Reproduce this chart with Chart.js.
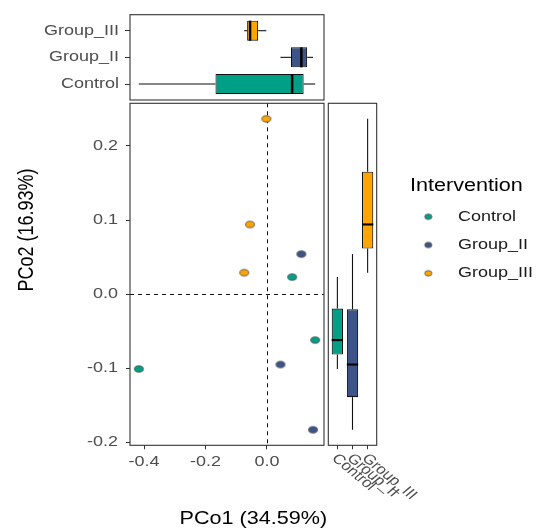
<!DOCTYPE html>
<html>
<head>
<meta charset="utf-8">
<script src="https://cdn.jsdelivr.net/npm/chart.js@4/dist/chart.umd.min.js"></script>
<style>
  html, body { margin: 0; padding: 0; background: #fff; }
  #wrap { position: relative; width: 536px; height: 530px; }
  #wrap canvas { position: absolute; left: 0; top: 0; }
</style>
</head>
<body>
<div id="wrap">
  <canvas id="mainChart" width="536" height="530"></canvas>
  <canvas id="topChart" width="536" height="530"></canvas>
  <canvas id="sideChart" width="536" height="530"></canvas>
</div>
<script>
// ---- data: PCoA coordinates per intervention group ----
const groups = ['Control', 'Group_II', 'Group_III'];
const controlPCo1 = [-0.417, 0.082, 0.157];
const controlPCo2 = [-0.101, 0.023, -0.062];
const group2PCo1 = [0.112, 0.044, 0.150];
const group2PCo2 = [0.054, -0.095, -0.183];
const group3PCo1 = [-0.002, -0.055, -0.074];
const group3PCo2 = [0.2365, 0.094, 0.029];
const xTickValues = [-0.4, -0.2, 0.0];
const yTickValues = [-0.2, -0.1, 0.0, 0.1, 0.2];
const xTitle = 'PCo1 (34.59%)';
const yTitle = 'PCo2 (16.93%)';
const legendTitle = 'Intervention';

// ---- styling ----
const groupColors = ['#00A087', '#3C5488', '#FFA500'];
const FONT = '"Liberation Sans", Arial, sans-serif';
const SX = 1.2;            // horizontal text stretch
const TICK_COLOR = '#4d4d4d';
const FRAME_COLOR = '#333333';

// panel frames (pixels)
const PANEL = {
  left: 130, right: 324,            // main + top panel horizontal extent
  mainTop: 103.3, mainBottom: 445.3,
  topTop: 14.7, topBottom: 100,
  sideLeft: 328.3, sideRight: 376.7
};

const xsByGroup = [controlPCo1, group2PCo1, group3PCo1];
const ysByGroup = [controlPCo2, group2PCo2, group3PCo2];

// ---- helpers ----
function quantile(arr, p) {
  const s = [...arr].sort((a, b) => a - b);
  const h = (s.length - 1) * p;
  const lo = Math.floor(h);
  const hi = Math.min(lo + 1, s.length - 1);
  return s[lo] + (h - lo) * (s[hi] - s[lo]);
}
function boxStats(arr) {
  const q1 = quantile(arr, 0.25), med = quantile(arr, 0.5), q3 = quantile(arr, 0.75);
  const iqr = q3 - q1;
  const inside = arr.filter(v => v >= q1 - 1.5 * iqr && v <= q3 + 1.5 * iqr);
  return { q1, med, q3, lo: Math.min(...inside), hi: Math.max(...inside) };
}
function expanded(values) {
  const mn = Math.min(...values), mx = Math.max(...values);
  const pad = (mx - mn) * 0.05;
  return [mn - pad, mx + pad];
}
function txt(ctx, s, x, y, o) {
  ctx.save();
  ctx.translate(x, y);
  ctx.scale(SX, 1);
  if (o.rot) ctx.rotate(o.rot);
  ctx.font = `${o.size}px ${FONT}`;
  ctx.fillStyle = o.color || '#000';
  ctx.textAlign = o.align || 'left';
  ctx.textBaseline = o.base || 'middle';
  ctx.fillText(s, 0, 0);
  ctx.restore();
}
function ellipseDot(color, rx, ry) {
  const c = document.createElement('canvas');
  c.width = Math.ceil(rx * 2 + 3);
  c.height = Math.ceil(ry * 2 + 3);
  const g = c.getContext('2d');
  g.beginPath();
  g.ellipse(c.width / 2, c.height / 2, rx, ry, 0, 0, Math.PI * 2);
  g.fillStyle = color;
  g.fill();
  g.lineWidth = 0.9;
  g.strokeStyle = '#555';
  g.stroke();
  return c;
}

const [xMin, xMax] = expanded(xsByGroup.flat());
const [yMin, yMax] = expanded(ysByGroup.flat());
const statsX = xsByGroup.map(boxStats);
const statsY = ysByGroup.map(boxStats);
const pointDots = groupColors.map(c => ellipseDot(c, 4.4, 3.2));
const legendDots = groupColors.map(c => ellipseDot(c, 3.6, 2.7));

function frameRect(ctx, l, t, r, b) {
  ctx.save();
  ctx.strokeStyle = FRAME_COLOR;
  ctx.lineWidth = 1.1;
  ctx.strokeRect(l, t, r - l, b - t);
  ctx.restore();
}
const tickGrid = len => ({ display: true, drawOnChartArea: false, drawTicks: true, tickLength: len, color: FRAME_COLOR, lineWidth: 1, offset: false });

Chart.defaults.font.family = FONT;

// ---- main scatter ----
const mainDecor = {
  id: 'mainDecor',
  beforeDatasetsDraw(chart) {
    const { ctx, chartArea: a, scales: { x, y } } = chart;
    const x0 = Math.round(x.getPixelForValue(0)) + 0.5;
    const y0 = Math.round(y.getPixelForValue(0)) + 0.5;
    ctx.save();
    ctx.strokeStyle = '#111';
    ctx.lineWidth = 1;
    ctx.setLineDash([4, 4]);
    ctx.beginPath();
    ctx.moveTo(x0, a.top); ctx.lineTo(x0, a.bottom);
    ctx.moveTo(a.left, y0); ctx.lineTo(a.right, y0);
    ctx.stroke();
    ctx.restore();
  },
  afterDraw(chart) {
    const { ctx, chartArea: a, scales: { x, y } } = chart;
    frameRect(ctx, a.left, a.top, a.right, a.bottom);
    x.ticks.forEach(t => txt(ctx, t.value.toFixed(1), x.getPixelForValue(t.value), a.bottom + 17,
      { size: 15, color: TICK_COLOR, align: 'center' }));
    y.ticks.forEach(t => txt(ctx, t.value.toFixed(1), a.left - 12, y.getPixelForValue(t.value),
      { size: 15, color: TICK_COLOR, align: 'right' }));
    // axis titles
    txt(ctx, xTitle, (PANEL.left + PANEL.sideRight) / 2, 519, { size: 18, align: 'center' });
    txt(ctx, yTitle, 27, (PANEL.topTop + PANEL.mainBottom) / 2, { size: 18, align: 'center', rot: -Math.PI / 2 });
    // legend
    txt(ctx, legendTitle, 410, 186, { size: 18, align: 'left' });
    groups.forEach((g, i) => {
      const cy = 216.7 + i * 28.3;
      const d = legendDots[i];
      ctx.drawImage(d, 428.3 - d.width / 2, cy - d.height / 2);
      txt(ctx, g, 458, cy, { size: 15, align: 'left', color: '#1a1a1a' });
    });
  }
};

new Chart(document.getElementById('mainChart'), {
  type: 'scatter',
  data: {
    datasets: groups.map((g, i) => ({
      label: g,
      data: xsByGroup[i].map((v, k) => ({ x: v, y: ysByGroup[i][k] })),
      pointStyle: pointDots[i],
      radius: 4
    }))
  },
  options: {
    responsive: false, animation: false, events: [],
    layout: { padding: { left: 0, top: PANEL.mainTop, right: 536 - PANEL.right, bottom: 0 } },
    plugins: { legend: { display: false }, tooltip: { enabled: false } },
    scales: {
      x: {
        type: 'linear', min: xMin, max: xMax,
        afterBuildTicks: s => { s.ticks = xTickValues.map(v => ({ value: v })); },
        afterFit: s => { s.height = 530 - PANEL.mainBottom; },
        ticks: { display: false },
        grid: tickGrid(4), border: { display: false }
      },
      y: {
        type: 'linear', min: yMin, max: yMax,
        afterBuildTicks: s => { s.ticks = yTickValues.map(v => ({ value: v })); },
        afterFit: s => { s.width = PANEL.left; },
        ticks: { display: false },
        grid: tickGrid(4), border: { display: false }
      }
    }
  },
  plugins: [mainDecor]
});

// ---- marginal boxplots ----
function boxDecor(stats, horizontal) {
  return {
    id: 'boxDecor',
    beforeDatasetsDraw(chart) {
      const { ctx } = chart;
      const vs = horizontal ? chart.scales.x : chart.scales.y;
      const cs = horizontal ? chart.scales.y : chart.scales.x;
      ctx.save();
      ctx.strokeStyle = '#111';
      ctx.lineWidth = 1.1;
      stats.forEach((s, i) => {
        const c = cs.getPixelForValue(i);
        [[s.lo, s.q1], [s.q3, s.hi]].forEach(([a, b]) => {
          ctx.beginPath();
          if (horizontal) { ctx.moveTo(vs.getPixelForValue(a), c); ctx.lineTo(vs.getPixelForValue(b), c); }
          else { ctx.moveTo(c, vs.getPixelForValue(a)); ctx.lineTo(c, vs.getPixelForValue(b)); }
          ctx.stroke();
        });
      });
      ctx.restore();
    },
    afterDatasetsDraw(chart) {
      const { ctx } = chart;
      const vs = horizontal ? chart.scales.x : chart.scales.y;
      const cs = horizontal ? chart.scales.y : chart.scales.x;
      const bars = chart.getDatasetMeta(0).data;
      ctx.save();
      ctx.strokeStyle = '#000';
      ctx.lineWidth = horizontal ? 2.5 : 2.1;
      stats.forEach((s, i) => {
        const c = cs.getPixelForValue(i);
        const m = vs.getPixelForValue(s.med);
        const half = (horizontal ? bars[i].height : bars[i].width) / 2;
        ctx.beginPath();
        if (horizontal) { ctx.moveTo(m, c - half); ctx.lineTo(m, c + half); }
        else { ctx.moveTo(c - half, m); ctx.lineTo(c + half, m); }
        ctx.stroke();
      });
      ctx.restore();
    },
    afterDraw(chart) {
      const { ctx, chartArea: a } = chart;
      const cs = horizontal ? chart.scales.y : chart.scales.x;
      const unit = Math.abs(cs.getPixelForValue(1) - cs.getPixelForValue(0));
      if (horizontal) {
        frameRect(ctx, a.left, a.top - 0.1 * unit, a.right, a.bottom + 0.1 * unit);
        groups.forEach((g, i) => txt(ctx, g, a.left - 11, cs.getPixelForValue(i),
          { size: 15, color: TICK_COLOR, align: 'right' }));
      } else {
        frameRect(ctx, a.left - 0.1 * unit, a.top, a.right + 0.1 * unit, a.bottom);
        groups.forEach((g, i) => txt(ctx, g, cs.getPixelForValue(i) - 3, a.bottom + 11,
          { size: 14, color: TICK_COLOR, align: 'left', rot: Math.PI / 4 }));
      }
    }
  };
}

const boxDataset = stats => ({
  data: stats.map(s => [s.q1, s.q3]),
  backgroundColor: groupColors,
  borderColor: '#111',
  borderWidth: 1.1,
  borderSkipped: false,
  barPercentage: 0.75,
  categoryPercentage: 1
});

// top: PCo1 distribution per group
const topUnit = (PANEL.topBottom - PANEL.topTop) / 3.2;
new Chart(document.getElementById('topChart'), {
  type: 'bar',
  data: { labels: groups, datasets: [boxDataset(statsX)] },
  options: {
    indexAxis: 'y',
    responsive: false, animation: false, events: [],
    layout: { padding: {
      left: 0, right: 536 - PANEL.right,
      top: PANEL.topTop + 0.1 * topUnit, bottom: 530 - (PANEL.topBottom - 0.1 * topUnit)
    } },
    plugins: { legend: { display: false }, tooltip: { enabled: false } },
    scales: {
      x: { type: 'linear', min: xMin, max: xMax, display: false },
      y: {
        type: 'category', reverse: true, offset: true,
        afterFit: s => { s.width = PANEL.left; },
        ticks: { display: false },
        grid: tickGrid(5), border: { display: false }
      }
    }
  },
  plugins: [boxDecor(statsX, true)]
});

// right: PCo2 distribution per group
const sideUnit = (PANEL.sideRight - PANEL.sideLeft) / 3.2;
new Chart(document.getElementById('sideChart'), {
  type: 'bar',
  data: { labels: groups, datasets: [boxDataset(statsY)] },
  options: {
    responsive: false, animation: false, events: [],
    layout: { padding: {
      left: PANEL.sideLeft + 0.1 * sideUnit, right: 536 - (PANEL.sideRight - 0.1 * sideUnit),
      top: PANEL.mainTop, bottom: 0
    } },
    plugins: { legend: { display: false }, tooltip: { enabled: false } },
    scales: {
      x: {
        type: 'category', offset: true,
        afterFit: s => { s.height = 530 - PANEL.mainBottom; },
        ticks: { display: false },
        grid: tickGrid(4), border: { display: false }
      },
      y: { type: 'linear', min: yMin, max: yMax, display: false }
    }
  },
  plugins: [boxDecor(statsY, false)]
});
</script>
</body>
</html>
